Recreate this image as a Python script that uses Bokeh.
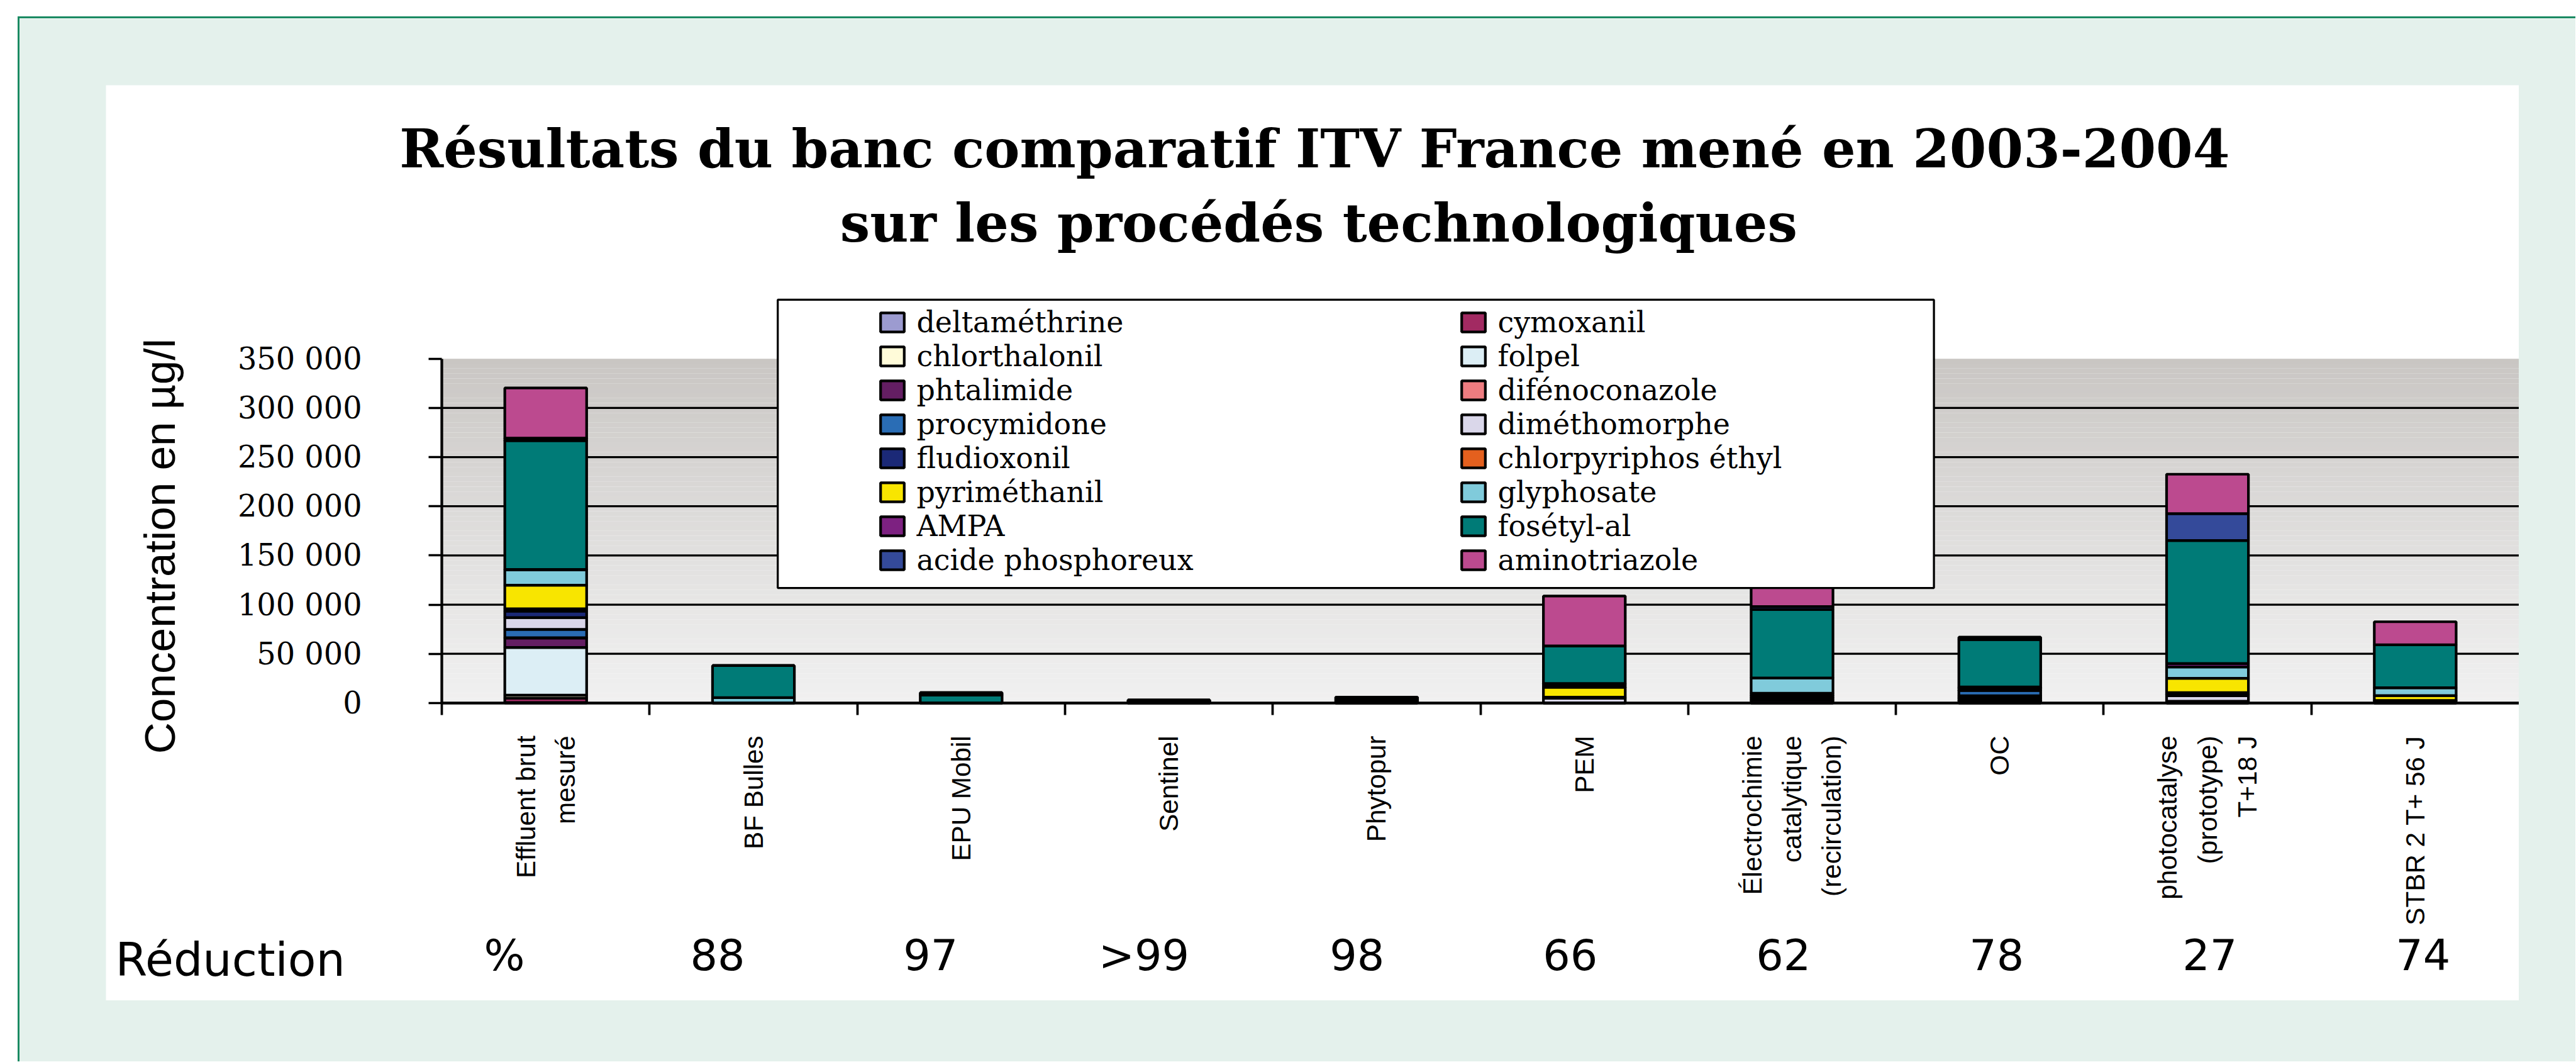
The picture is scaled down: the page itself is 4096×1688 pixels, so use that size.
import numpy as np
from math import pi
from bokeh.plotting import figure
from bokeh.models import (Range1d, LinearAxis, FixedTicker, Legend, LegendItem, Label, Spacer,
                          BoxAnnotation)
from bokeh.layouts import column, row
from bokeh.embed import file_html
from bokeh.resources import INLINE

S = 0.937  # scale of the reference

# ---------------- data ----------------
categories = ["Effluent brut\nmesuré", "BF Bulles", "EPU Mobil", "Sentinel", "Phytopur", "PEM",
              "Électrochimie\ncatalytique\n(recirculation)", "OC",
              "photocatalyse\n(prototype)\nT+18 J", "STBR 2 T+ 56 J"]
reduction_labels = ["%", "88", "97", ">99", "98", "66", "62", "78", "27", "74"]

y_ticks = [0, 50000, 100000, 150000, 200000, 250000, 300000, 350000]
y_tick_labels = ["0", "50 000", "100 000", "150 000", "200 000", "250 000", "300 000", "350 000"]

# concentrations in µg/l, one value per category (stack order bottom -> top)
deltamethrine   = [500,    0,     0,    0,    0,     0,     0,     0,      0,     0]
cymoxanil       = [4500,   0,     0,    0,    0,     0,     0,     0,      0,     0]
chlorthalonil   = [3000,   0,     0,    0,    0,     0,     0,     0,      0,     0]
folpel          = [48500,  0,     0,    0,    0,     0,     0,     2500,   0,     0]
phtalimide      = [9500,   0,     0,    0,    0,     0,     3000,  2500,   1000,  1000]
difenoconazole  = [300,    0,     0,    0,    0,     0,     0,     2300,   0,     0]
procymidone     = [8500,   0,     0,    0,    0,     0,     2300,  5500,   800,   0]
dimethomorphe   = [12000,  0,     0,    0,    0,     5000,  0,     0,      5500,  0]
fludioxonil     = [6500,   0,     0,    0,    2000,  0,     2300,  2500,   1600,  1500]
chlorpyriphos   = [2500,   0,     0,    0,    2000,  1000,  2400,  1000,   1600,  0]
pyrimethanil    = [24000,  0,     0,    0,    0,     10000, 0,     0,      14600, 5000]
glyphosate      = [15500,  5500,  0,    0,    0,     2300,  15500, 0,      11500, 8000]
ampa            = [500,    0,     0,    0,    0,     1500,  0,     0,      3500,  0]
fosetyl_al      = [131000, 32500, 8000, 1500, 2000,  38200, 69500, 48100,  125100, 43600]
acide_phosph    = [2500,   0,     2500, 1500, 0,     0,     3000,  2500,   27400, 0]
aminotriazole   = [51000,  0,     0,    0,    0,     50800, 23600, 0,      40000, 23500]

series_names = ["deltaméthrine", "cymoxanil", "chlorthalonil", "folpel", "phtalimide",
                "difénoconazole", "procymidone", "diméthomorphe", "fludioxonil",
                "chlorpyriphos éthyl", "pyriméthanil", "glyphosate", "AMPA", "fosétyl-al",
                "acide phosphoreux", "aminotriazole"]
series_values = [deltamethrine, cymoxanil, chlorthalonil, folpel, phtalimide, difenoconazole,
                 procymidone, dimethomorphe, fludioxonil, chlorpyriphos, pyrimethanil,
                 glyphosate, ampa, fosetyl_al, acide_phosph, aminotriazole]
series_colors = ["#9C9BD0", "#A22A62", "#FFFBD9", "#DCEEF5", "#641E63", "#EE7C80", "#2A6DB5",
                 "#DAD7EA", "#1B2977", "#E4601E", "#F8E500", "#80CBDB", "#7D2181", "#007B77",
                 "#344A9A", "#BC4A8F"]

# ---------------- geometry (reference px) ----------------
WHITE_L, WHITE_T, WHITE_R, WHITE_B = 179, 144, 4274, 1697   # white chart panel
PA_L, PA_T, PA_B = 749, 608, 1192                           # grey plot area
RED_FIRST, RED_LAST = 855, 4111                             # span of the reduction row
Y_MAX = 350000

FIG_W = round((WHITE_R - WHITE_L) * S)
FIG_H = round((WHITE_B - WHITE_T) * S)

n_cat = len(categories)
slot_pos = [i + 0.5 for i in range(n_cat)]        # category slots on the x scale
slot_edges = [float(i) for i in range(n_cat)]      # boundaries carrying the tick marks

# data ranges chosen so that the grey plot area sits where it does in the reference
x_per_px = n_cat / (WHITE_R - PA_L)
y_per_px = Y_MAX / (PA_B - PA_T)
x_range = Range1d(-(PA_L - WHITE_L) * x_per_px, n_cat)
y_range = Range1d(-(WHITE_B - PA_B) * y_per_px, (PA_B - WHITE_T) * y_per_px)
# the reduction row is spread slightly wider than the category slots
r_per_px = (slot_pos[-1] - slot_pos[0]) / (RED_LAST - RED_FIRST)
red_range = Range1d(slot_pos[0] - (RED_FIRST - WHITE_L) * r_per_px,
                    slot_pos[-1] + (WHITE_R - RED_LAST) * r_per_px)


def fx(xr):
    return (xr - WHITE_L) * S


def fy(yr):
    return (WHITE_B - yr) * S


def px(v):
    return f"{v * S:.1f}px"


p = figure(x_range=x_range, y_range=y_range,
           width=FIG_W, height=FIG_H, output_backend="svg", toolbar_location=None,
           x_axis_location=None, y_axis_location=None,
           min_border_left=0, min_border_right=0, min_border_top=0, min_border_bottom=0)
p.extra_x_ranges = {"reduction": red_range}
p.title.visible = False
p.outline_line_color = None
p.border_fill_color = "white"
p.background_fill_color = "white"
p.xgrid.visible = False
p.ygrid.visible = False

# gradient plot-area background (style only)
n_strips = 70
edges = np.linspace(0, Y_MAX, n_strips + 1)
top_c = np.array([0xC9, 0xC6, 0xC3])
bot_c = np.array([0xF0, 0xF0, 0xF0])
tt = (edges[:-1] + edges[1:]) / 2 / Y_MAX
cols = ["#%02x%02x%02x" % tuple(np.round(bot_c + (top_c - bot_c) * (t ** 1.15)).astype(int)) for t in tt]
p.quad(left=0, right=n_cat, bottom=edges[:-1], top=edges[1:], fill_color=cols,
       line_color=None, level="image")

# horizontal grid lines
grid_y = y_ticks[1:-1]
p.segment(x0=[0] * len(grid_y), x1=[n_cat] * len(grid_y), y0=grid_y, y1=grid_y,
          line_color="black", line_width=3.5 * S, level="underlay")

# stacked bars
data = {"x": slot_pos}
for name, vals in zip(series_names, series_values):
    data[name] = vals
renderers = p.vbar_stack(series_names, x="x", width=0.394, source=data, color=series_colors,
                         line_color="black", line_width=4.5 * S)

# y axis
yax = LinearAxis(fixed_location=0, bounds=(0, Y_MAX),
                 ticker=FixedTicker(ticks=y_ticks, minor_ticks=[]),
                 major_label_overrides=dict(zip(y_ticks, y_tick_labels)),
                 axis_line_color="black", axis_line_width=4.6 * S,
                 major_tick_line_color="black", major_tick_line_width=4 * S,
                 major_tick_out=round(22 * S), major_tick_in=0, minor_tick_line_color=None,
                 major_label_standoff=round(113 * S),
                 major_label_text_font="DejaVu Serif", major_label_text_font_size=px(51),
                 major_label_text_color="black")
p.add_layout(yax, "left")

# x axis: line + tick marks at category boundaries
tick_axis = LinearAxis(fixed_location=0, bounds=(0, n_cat),
                       ticker=FixedTicker(ticks=slot_edges, minor_ticks=[]),
                       major_label_overrides={t: "" for t in slot_edges},
                       axis_line_color="black", axis_line_width=4.6 * S,
                       major_tick_line_color="black", major_tick_line_width=4 * S,
                       major_tick_out=round(20 * S), major_tick_in=0,
                       minor_tick_line_color=None, major_label_standoff=0)
p.add_layout(tick_axis, "below")

# category names (vertical)
cat_axis = LinearAxis(fixed_location=0,
                      ticker=FixedTicker(ticks=slot_pos, minor_ticks=[]),
                      major_label_overrides=dict(zip(slot_pos, categories)),
                      major_label_orientation=pi / 2,
                      axis_line_color=None, major_tick_line_color=None,
                      major_tick_out=0, major_tick_in=0, minor_tick_line_color=None,
                      major_label_standoff=round(55 * S),
                      major_label_text_font="Liberation Sans",
                      major_label_text_font_size=px(45),
                      major_label_text_line_height=1.35,
                      major_label_text_color="black")
p.add_layout(cat_axis, "below")

# reduction row
red_axis = LinearAxis(fixed_location=0, x_range_name="reduction",
                      ticker=FixedTicker(ticks=slot_pos, minor_ticks=[]),
                      major_label_overrides=dict(zip(slot_pos, reduction_labels)),
                      axis_line_color=None, major_tick_line_color=None,
                      major_tick_out=0, major_tick_in=0, minor_tick_line_color=None,
                      major_label_standoff=362,
                      major_label_text_font="DejaVu Sans",
                      major_label_text_font_size=px(73),
                      major_label_text_color="black")
p.add_layout(red_axis, "below")

# legend frame and legend items
p.add_layout(BoxAnnotation(left=fx(1319), right=fx(3281), bottom=fy(997), top=fy(508),
                           left_units="screen", right_units="screen",
                           bottom_units="screen", top_units="screen",
                           fill_color="white", fill_alpha=1,
                           line_color="black", line_width=3.5 * S, line_alpha=1))

rmap = dict(zip(series_names, renderers))
col_major = series_names[0::2] + series_names[1::2]
items_legend = Legend(items=[LegendItem(label=n, renderers=[rmap[n]]) for n in col_major],
                      ncols=2, orientation="vertical",
                      location=(fx(1489), fy(979)), padding=0, margin=0, spacing=0,
                      glyph_width=round(50 * S), glyph_height=round(41 * S),
                      label_standoff=round(16 * S), label_width=round((2475 - 1555) * S),
                      label_height=round(57 * S),
                      label_text_font="DejaVu Serif", label_text_font_size=px(49),
                      label_text_color="black",
                      border_line_color=None, background_fill_alpha=0)
p.add_layout(items_legend, "center")

# texts
title_font = "DejaVu Serif"
p.add_layout(Label(x=fx(2230), y=fy(252), x_units="screen", y_units="screen",
                   text="Résultats du banc comparatif ITV France mené en 2003-2004",
                   text_font=title_font, text_font_style="bold", text_font_size=px(90),
                   text_align="center", text_baseline="alphabetic", text_color="black"))
p.add_layout(Label(x=fx(2237), y=fy(378), x_units="screen", y_units="screen",
                   text="sur les procédés technologiques",
                   text_font=title_font, text_font_style="bold", text_font_size=px(90),
                   text_align="center", text_baseline="alphabetic", text_color="black"))
p.add_layout(Label(x=fx(270), y=fy(926), x_units="screen", y_units="screen",
                   text="Concentration en µg/l", angle=pi / 2,
                   text_font="Liberation Sans", text_font_size=px(74),
                   text_align="center", text_baseline="middle", text_color="black"))
p.add_layout(Label(x=fx(195), y=fy(1628), x_units="screen", y_units="screen",
                   text="Réduction", text_font="DejaVu Sans", text_font_size=px(78),
                   text_align="left", text_baseline="alphabetic", text_color="black"))

# ---------------- page frame (mint panel with green border) ----------------
GREEN = "#1A8A62"
MINT = "#E4F1EC"
OUT_T, OUT_L = 26, 28          # white margin above / left of the green border
IN_L, IN_T, IN_R, IN_B = 137, 106, 90, 97
MINT_W = IN_L + FIG_W + IN_R
MINT_H = IN_T + FIG_H + IN_B

inner = column(
    Spacer(width=MINT_W, height=IN_T),
    row(Spacer(width=IN_L, height=FIG_H), p, Spacer(width=IN_R, height=FIG_H)),
    Spacer(width=MINT_W, height=IN_B),
    styles={"background-color": MINT})

page = column(
    Spacer(width=OUT_L + 3 + MINT_W, height=OUT_T),
    row(Spacer(width=OUT_L, height=3), Spacer(width=3 + MINT_W, height=3, styles={"background-color": GREEN})),
    row(Spacer(width=OUT_L, height=MINT_H), Spacer(width=3, height=MINT_H, styles={"background-color": GREEN}), inner),
)

open("out.html", "w").write(file_html(page, INLINE, title="ITV France"))
